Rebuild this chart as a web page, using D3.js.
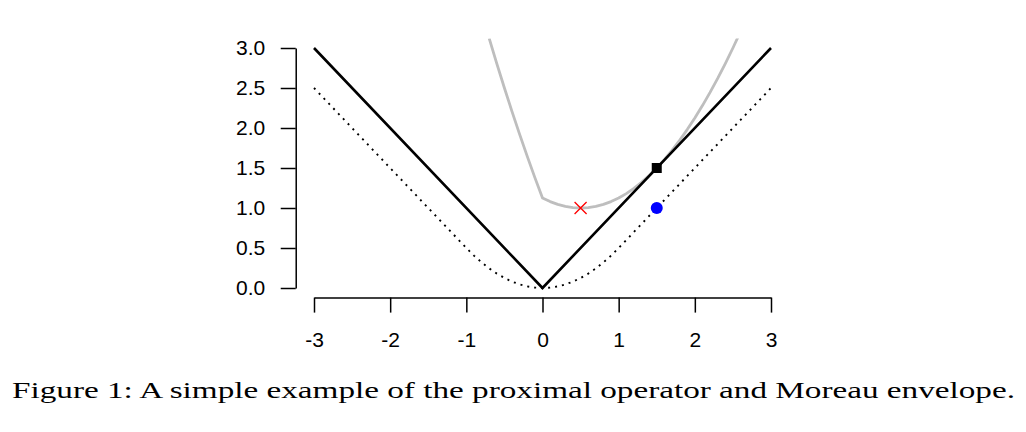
<!DOCTYPE html>
<html><head><meta charset="utf-8">
<script src="https://cdn.jsdelivr.net/npm/d3@7"></script>
<style>body{margin:0;background:#fff;}svg{display:block;}</style>
</head><body>
<svg id="c" width="1026" height="432"></svg>
<script>
// |x|
const absX = [-3, 0, 3];
const absY = [3, 0, 3];
// Moreau envelope (dotted)
const envX = [-3, -1, -0.9, -0.8, -0.7, -0.6, -0.5, -0.4, -0.3, -0.2, -0.1, 0, 0.1, 0.2, 0.3, 0.4, 0.5, 0.6, 0.7, 0.8, 0.9, 1, 3];
const envY = [2.5, 0.5, 0.405, 0.32, 0.245, 0.18, 0.125, 0.08, 0.045, 0.02, 0.005, 0, 0.005, 0.02, 0.045, 0.08, 0.125, 0.18, 0.245, 0.32, 0.405, 0.5, 2.5];
// objective of the prox problem (gray)
const objX = [-0.7, -0.6, -0.5, -0.4, -0.3, -0.2, -0.1, 0, 0.1, 0.2, 0.3, 0.4, 0.5, 0.6, 0.7, 0.8, 0.9, 1.0, 1.1, 1.2, 1.3, 1.4, 1.5, 1.6, 1.7, 1.8, 1.9, 2.0, 2.1, 2.2, 2.3, 2.4, 2.5, 2.6];
const objY = [3.12, 2.805, 2.5, 2.205, 1.92, 1.645, 1.38, 1.125, 1.08, 1.045, 1.02, 1.005, 1.0, 1.005, 1.02, 1.045, 1.08, 1.125, 1.18, 1.245, 1.32, 1.405, 1.5, 1.605, 1.72, 1.845, 1.98, 2.125, 2.28, 2.445, 2.62, 2.805, 3.0, 3.205];
// points
const proxPt = [0.5, 1.0];
const fPt = [1.5, 1.5];
const envPt = [1.5, 1.0];
const xTicks = [-3, -2, -1, 0, 1, 2, 3];
const yTicks = [0, 0.5, 1, 1.5, 2, 2.5, 3];
const yTickLabels = ["0.0", "0.5", "1.0", "1.5", "2.0", "2.5", "3.0"];
const caption = "Figure 1: A simple example of the proximal operator and Moreau envelope.";

const svg = d3.select("#c");
const x = d3.scaleLinear().domain([-3, 3]).range([314, 771]);
const y = d3.scaleLinear().domain([0, 3]).range([288, 48]);
const px0 = x(-3.24), px1 = x(3.24), py0 = y(3.12), py1 = y(-0.12);

svg.append("defs").append("clipPath").attr("id", "clip")
  .append("rect").attr("x", px0).attr("y", py0).attr("width", px1 - px0).attr("height", py1 - py0);

const font = "'Liberation Sans', Arial, sans-serif";

// y axis
const ya = svg.append("g").attr("transform", `translate(${px0},0)`)
  .call(d3.axisLeft(y).tickValues(yTicks).tickFormat((d, i) => yTickLabels[i]).tickSizeInner(15).tickSizeOuter(0).tickPadding(15.5));
// x axis
const xa = svg.append("g").attr("transform", `translate(0,${py1})`)
  .call(d3.axisBottom(x).tickValues(xTicks).tickFormat(d3.format("d")).tickSizeInner(15).tickSizeOuter(0).tickPadding(19));
[ya, xa].forEach(g => {
  g.selectAll("path,line").attr("stroke", "#000").attr("stroke-width", 1.5);
  g.selectAll("text").attr("font-family", font).attr("font-size", 21).attr("fill", "#000");
});
xa.selectAll("text").text(d => d < 0 ? "-" + Math.abs(d) : d);

const plot = svg.append("g").attr("clip-path", "url(#clip)");
const line = d3.line().x(d => x(d[0])).y(d => y(d[1]));

plot.append("path").datum(objX.map((v, i) => [v, objY[i]]))
  .attr("d", line).attr("fill", "none").attr("stroke", "#bebebe").attr("stroke-width", 2.8).attr("stroke-linejoin", "round");
plot.append("path").datum(envX.map((v, i) => [v, envY[i]]))
  .attr("d", line).attr("fill", "none").attr("stroke", "#000").attr("stroke-width", 1.9).attr("stroke-dasharray", "2,5");
plot.append("path").datum(absX.map((v, i) => [v, absY[i]]))
  .attr("d", line).attr("fill", "none").attr("stroke", "#000").attr("stroke-width", 2.6).attr("stroke-linejoin", "miter");

// red x
const s = 6;
plot.append("path")
  .attr("d", `M${x(proxPt[0]) - s},${y(proxPt[1]) - s}L${x(proxPt[0]) + s},${y(proxPt[1]) + s}M${x(proxPt[0]) - s},${y(proxPt[1]) + s}L${x(proxPt[0]) + s},${y(proxPt[1]) - s}`)
  .attr("stroke", "#ff0000").attr("stroke-width", 1.3).attr("fill", "none");
// black square
plot.append("rect").attr("x", x(fPt[0]) - 5).attr("y", y(fPt[1]) - 5).attr("width", 10).attr("height", 10).attr("fill", "#000");
// blue dot
plot.append("circle").attr("cx", x(envPt[0])).attr("cy", y(envPt[1])).attr("r", 6).attr("fill", "#0000ff");

// caption
svg.append("text").attr("x", 12).attr("y", 398).attr("textLength", 1003).attr("lengthAdjust", "spacingAndGlyphs")
  .attr("font-family", "'Liberation Serif','Times New Roman',serif").attr("font-size", 23.5).attr("fill", "#000")
  .text(caption);
</script>
</body></html>
